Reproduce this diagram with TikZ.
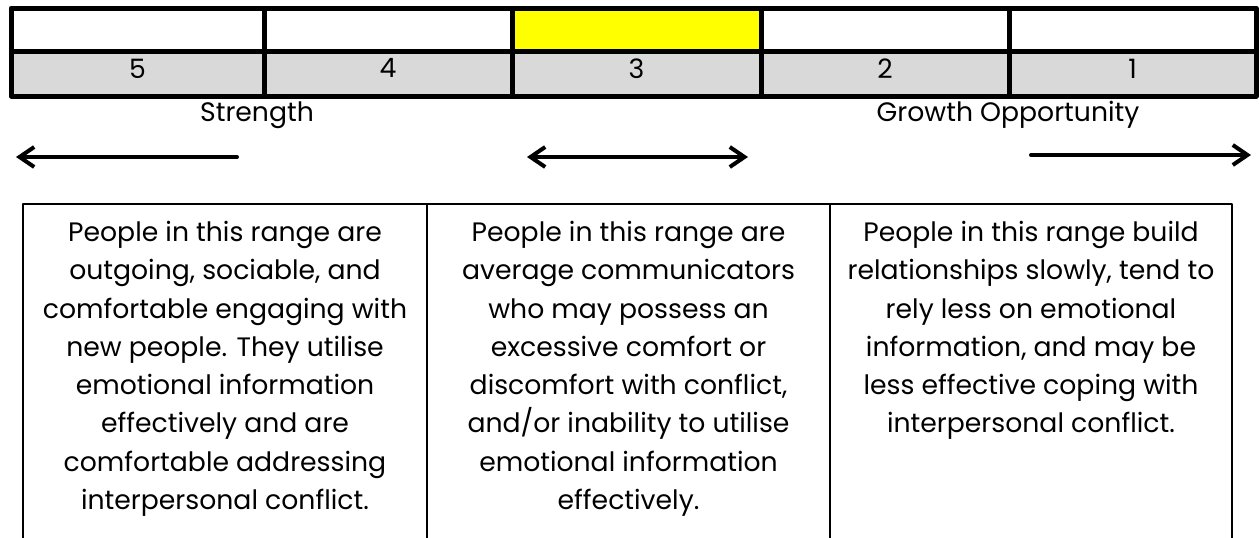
\documentclass[tikz,border=0pt]{standalone}
\usepackage{fontspec}
\setmainfont{Poppins}
\usetikzlibrary{arrows.meta}
\definecolor{markyellow}{HTML}{FFFF00}
\definecolor{scoregrey}{HTML}{D9D9D9}
\tikzset{
  scorecell/.style={draw, line width=3.75pt, inner sep=0pt},
  scalelabel/.style={font=\fontsize{20}{24}\selectfont, anchor=base},
  rangetext/.style={font=\fontsize{20}{28.7}\selectfont, align=center, anchor=north, inner sep=0pt},
  rangebox/.style={line width=1.9pt, line cap=rect},
  dirarrow/.style={line width=3pt, line cap=round, -{Straight Barb[length=11pt,width=15pt]}},
  dirboth/.style={line width=3pt, line cap=round, {Straight Barb[length=11pt,width=15pt]}-{Straight Barb[length=11pt,width=15pt]}},
}
\begin{document}
\begin{tikzpicture}[x=0.75pt, y=-0.75pt, line join=round]
\useasboundingbox (0,0) rectangle (1259,538);
\clip (0,0) rectangle (1259,538);
% score scale, two rows
\foreach \xa/\xb/\n/\c in {11/264/5/white, 264/512/4/white, 512/761/3/markyellow, 761/1009/2/white, 1009/1256/1/white}{
  \pgfmathsetmacro\w{(\xb-\xa)*0.75}
  \node[scorecell, fill=\c, minimum width=\w pt, minimum height=32.6pt] (mark\n) at ({(\xa+\xb)/2}, 29.75) {};
  \node[scorecell, fill=scoregrey, minimum width=\w pt, minimum height=33.4pt, text depth=8pt, font=\fontsize{20}{24}\selectfont] (score\n) at ({(\xa+\xb)/2}, 73.75) {\n};
}
\node[scalelabel] (strength) at (257,122) {Strength};
\node[scalelabel] (growth) at (1008,122) {Growth Opportunity};
% direction arrows
\coordinate (strTail) at (237,157);
\coordinate (strTip) at (16,157);
\coordinate (midL) at (527,157);
\coordinate (midR) at (748,157);
\coordinate (groTail) at (1031,155);
\coordinate (groTip) at (1251,155);
\draw[dirarrow] (strTail) -- (strTip);
\draw[dirboth] (midL) -- (midR);
\draw[dirarrow] (groTail) -- (groTip);
% description boxes
\draw[rangebox] (23,560) -- (23,204) -- (1232,204) -- (1232,560);
\draw[rangebox] (427,204) -- (427,560);
\draw[rangebox] (830,204) -- (830,560);
\node[rangetext] (high) at (225,221) {People in this range are\\outgoing, sociable, and\\comfortable engaging with\\new people. They utilise\\emotional information\\effectively and are\\comfortable addressing\\interpersonal conflict.};
\node[rangetext] (avg) at (628.5,221) {People in this range are\\average communicators\\who may possess an\\excessive comfort or\\discomfort with conflict,\\and/or inability to utilise\\emotional information\\effectively.};
\node[rangetext] (low) at (1031,221) {People in this range build\\relationships slowly, tend to\\rely less on emotional\\information, and may be\\less effective coping with\\interpersonal conflict.};
\end{tikzpicture}
\end{document}
